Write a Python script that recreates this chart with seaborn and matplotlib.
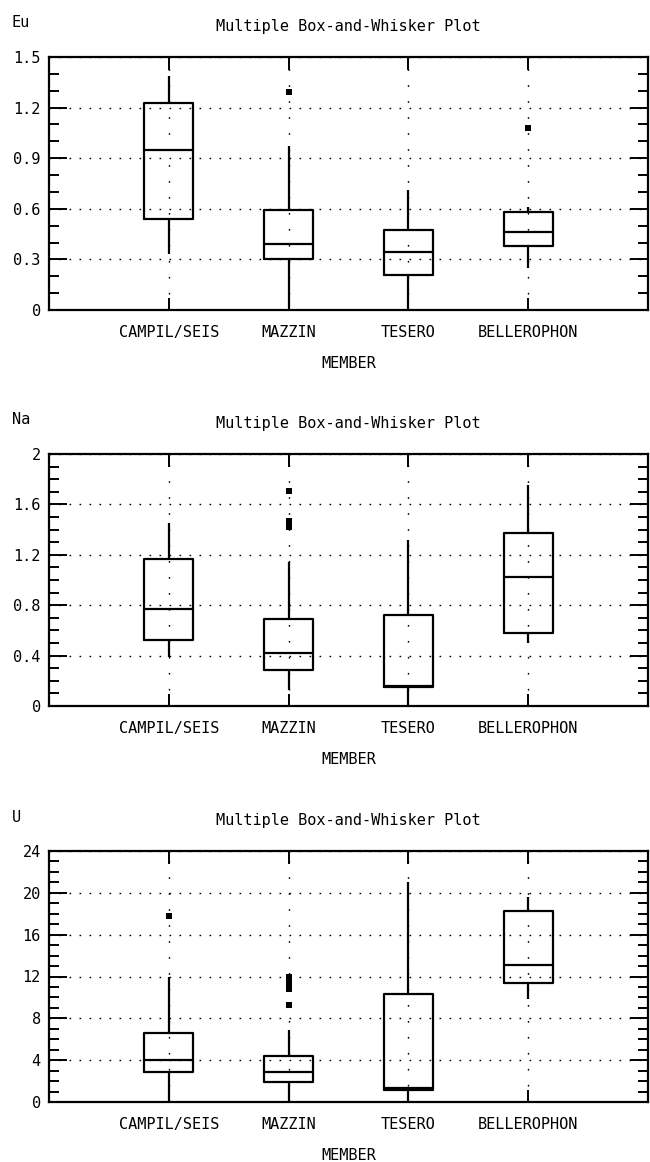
import numpy as np
import pandas as pd
import matplotlib
matplotlib.use("Agg")
import matplotlib.pyplot as plt
from matplotlib.ticker import FixedLocator, MultipleLocator
import seaborn as sns

# ---- data: five-number summaries (whisker low, Q1, median, Q3, whisker high) ----
members = ["CAMPIL/SEIS", "MAZZIN", "TESERO", "BELLEROPHON"]

eu_low = [0.33, 0.01, 0.0, 0.25]
eu_q1 = [0.54, 0.30, 0.21, 0.38]
eu_med = [0.95, 0.39, 0.345, 0.465]
eu_q3 = [1.23, 0.59, 0.475, 0.58]
eu_high = [1.39, 0.97, 0.71, 0.61]
eu_out_member = ["MAZZIN", "BELLEROPHON"]
eu_out_value = [1.29, 1.08]
eu_ticks = [0, 0.3, 0.6, 0.9, 1.2, 1.5]
eu_ticklabels = ["0", "0.3", "0.6", "0.9", "1.2", "1.5"]

na_low = [0.39, 0.13, 0.0, 0.50]
na_q1 = [0.52, 0.285, 0.148, 0.58]
na_med = [0.767, 0.423, 0.16, 1.02]
na_q3 = [1.164, 0.69, 0.722, 1.375]
na_high = [1.455, 1.14, 1.32, 1.754]
na_out_member = ["MAZZIN", "MAZZIN", "MAZZIN"]
na_out_value = [1.71, 1.47, 1.42]
na_ticks = [0, 0.4, 0.8, 1.2, 1.6, 2.0]
na_ticklabels = ["0", "0.4", "0.8", "1.2", "1.6", "2"]

u_low = [0.0, 0.0, 0.0, 9.85]
u_q1 = [2.86, 1.91, 1.15, 11.35]
u_med = [3.98, 2.83, 1.3, 13.1]
u_q3 = [6.59, 4.36, 10.3, 18.3]
u_high = [11.94, 6.9, 21.07, 19.6]
u_out_member = ["CAMPIL/SEIS", "MAZZIN", "MAZZIN", "MAZZIN", "MAZZIN", "MAZZIN"]
u_out_value = [17.8, 12.0, 11.6, 11.3, 10.8, 9.3]
u_ticks = [0, 4, 8, 12, 16, 20, 24]
u_ticklabels = ["0", "4", "8", "12", "16", "20", "24"]

panels = [
    ("Eu", (eu_low, eu_q1, eu_med, eu_q3, eu_high), (eu_out_member, eu_out_value),
     eu_ticks, eu_ticklabels, 0.1),
    ("Na", (na_low, na_q1, na_med, na_q3, na_high), (na_out_member, na_out_value),
     na_ticks, na_ticklabels, 0.1),
    ("U", (u_low, u_q1, u_med, u_q3, u_high), (u_out_member, u_out_value),
     u_ticks, u_ticklabels, 1.0),
]

sns.set_theme(style="white")
plt.rcParams["font.family"] = ["DejaVu Sans Mono", "DejaVu Sans"]
plt.rcParams["font.size"] = 11
plt.rcParams["text.color"] = "black"
plt.rcParams["axes.labelcolor"] = "black"
plt.rcParams["xtick.color"] = "black"
plt.rcParams["ytick.color"] = "black"

FIG_W, FIG_H = 650, 1162
fig = plt.figure(figsize=(FIG_W / 100, FIG_H / 100), dpi=100)

# axes boxes in pixels: (left, top, right, bottom)
boxes_px = [(49, 57, 648, 310), (49, 454, 648, 706), (49, 851, 648, 1102)]


def summary_frame(stats):
    rows = []
    for i, m in enumerate(members):
        for s in stats:
            rows.append({"MEMBER": m, "value": s[i]})
    return pd.DataFrame(rows)


for (name, stats, outliers, ticks, ticklabels, minor), (l, t, r, b) in zip(panels, boxes_px):
    ax = fig.add_axes([l / FIG_W, 1 - b / FIG_H, (r - l) / FIG_W, (b - t) / FIG_H])
    df = summary_frame(stats)
    sns.boxplot(data=df, x="MEMBER", y="value", order=members, ax=ax,
                whis=(0, 100), width=0.41, fill=False, color="black",
                linewidth=1.6, showcaps=False, zorder=3)
    out_df = pd.DataFrame({"MEMBER": outliers[0], "value": outliers[1]})
    sns.stripplot(data=out_df, x="MEMBER", y="value", order=members, ax=ax,
                  jitter=False, color="black", marker="s", size=4, zorder=4)

    ax.set_xlim(-1, 4)
    ax.set_ylim(ticks[0], ticks[-1])
    ax.yaxis.set_major_locator(FixedLocator(ticks))
    ax.set_yticklabels(ticklabels)
    ax.yaxis.set_minor_locator(MultipleLocator(minor))

    ax.tick_params(axis="y", which="major", direction="in", left=True, right=True,
                   length=13, width=1.4, color="black", labelcolor="black",
                   pad=6, labelsize=11)
    ax.tick_params(axis="y", which="minor", direction="in", left=True, right=True,
                   length=7, width=1.4, color="black")
    ax.tick_params(axis="x", which="major", direction="in", top=True, bottom=True,
                   length=9, width=1.4, color="black", labelcolor="black",
                   pad=11, labelsize=11)

    ax.yaxis.grid(True, which="major", color="black", linewidth=1.0,
                  linestyle=(0, (1.2, 6)))
    ax.xaxis.grid(True, which="major", color="black", linewidth=1.0,
                  linestyle=(0, (1.2, 10.3)))
    ax.set_axisbelow(True)

    for sp in ax.spines.values():
        sp.set_visible(True)
        sp.set_color("black")
        sp.set_linewidth(1.6)

    ax.set_title("Multiple Box-and-Whisker Plot", fontsize=11, pad=19, color="black")
    ax.set_xlabel("MEMBER", fontsize=11, labelpad=11, color="black")
    ax.set_ylabel(name, rotation=0, ha="left", va="center", fontsize=11, color="black")
    ax.yaxis.set_label_coords(-0.062, 1.135)

fig.savefig("out.png", dpi=100, facecolor="white")
